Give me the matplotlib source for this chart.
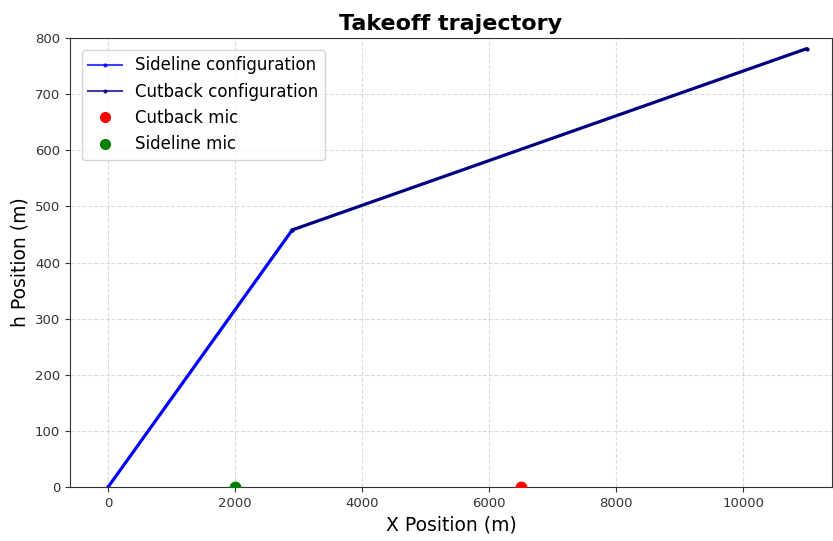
import matplotlib
matplotlib.use("Agg")
import matplotlib.pyplot as plt
from matplotlib.lines import Line2D

# Data
sideline_x = [0, 2900]
sideline_h = [0, 458]
cutback_x = [2900, 11000]
cutback_h = [458, 781]
cutback_mic = (6500, 0)
sideline_mic = (2000, 0)

fig = plt.figure(figsize=(8.33, 5.41), dpi=100)
ax = fig.add_axes([70/833, 1-487/541, (832-70)/833, (487-38)/541])

ax.plot(sideline_x, sideline_h, color='blue', lw=2.3, marker='.', ms=4, solid_capstyle='round')
ax.plot(cutback_x, cutback_h, color='navy', lw=2.3, marker='.', ms=4, solid_capstyle='round')
m1, = ax.plot([cutback_mic[0]], [cutback_mic[1]], 'o', color='red', ms=7.5, zorder=3)
m2, = ax.plot([sideline_mic[0]], [sideline_mic[1]], 'o', color='green', ms=7.5, zorder=3)
m1.set_clip_path(ax.patch)
m2.set_clip_path(ax.patch)

ax.set_xlim(-600, 11400)
ax.set_ylim(0, 800)
ax.grid(True, linestyle='--', color='lightgray', alpha=0.8, lw=0.8)
ax.set_axisbelow(True)
for s in ax.spines.values():
    s.set_color('#333333')

ax.set_title('Takeoff trajectory', fontsize=16, fontweight='bold', pad=6)
ax.set_xlabel('X Position (m)', fontsize=13.5)
ax.set_ylabel('h Position (m)', fontsize=13.5)
ax.tick_params(labelsize=9.5, colors='#333333')

handles = [
    Line2D([], [], color='blue', lw=1.5, marker='.', ms=4, alpha=0.75),
    Line2D([], [], color='navy', lw=1.5, marker='.', ms=4, alpha=0.75),
    Line2D([], [], color='red', lw=0, marker='o', ms=7),
    Line2D([], [], color='green', lw=0, marker='o', ms=7),
]
labels = ['Sideline configuration', 'Cutback configuration', 'Cutback mic', 'Sideline mic']
ax.legend(handles, labels, loc='upper left', fontsize=12, borderaxespad=0.7)

fig.savefig('out.png', dpi=100)
